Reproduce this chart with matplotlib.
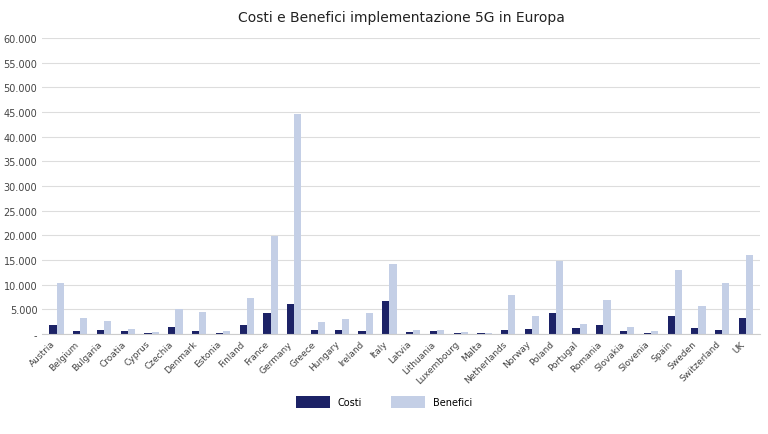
import numpy as np
import matplotlib
matplotlib.use("Agg")
import matplotlib.pyplot as plt
from matplotlib.ticker import FuncFormatter

countries = ["Austria", "Belgium", "Bulgaria", "Croatia", "Cyprus", "Czechia", "Denmark",
             "Estonia", "Finland", "France", "Germany", "Greece", "Hungary", "Ireland", "Italy",
             "Latvia", "Lithuania", "Luxembourg", "Malta", "Netherlands", "Norway", "Poland",
             "Portugal", "Romania", "Slovakia", "Slovenia", "Spain", "Sweden", "Switzerland", "UK"]
costi = [1900, 500, 900, 500, 200, 1400, 600, 200, 1900, 4200, 6000, 900, 900, 600, 6600,
         300, 500, 200, 100, 800, 1000, 4300, 1200, 1900, 600, 200, 3700, 1300, 800, 3200]
benefici = [10400, 3300, 2700, 1000, 300, 5000, 4500, 600, 7200, 19800, 44600, 2500, 3100,
            4300, 14200, 800, 900, 300, 200, 7800, 3600, 14800, 2000, 6900, 1400, 600, 13000,
            5700, 10400, 16100]

fig, ax = plt.subplots(figsize=(7.68, 4.35), dpi=100)
x = np.arange(len(countries))
w = 0.3
ax.bar(x - w / 2, costi, w, color="#1c2266", label="Costi")
ax.bar(x + w / 2, benefici, w, color="#c4cfe6", label="Benefici")

ax.set_ylim(0, 60000)
ax.set_yticks(np.arange(0, 60001, 5000))
ax.yaxis.set_major_formatter(FuncFormatter(lambda v, p: "-" if v == 0 else f"{int(v):,}".replace(",", ".")))
ax.set_xticks(x)
ax.set_xticklabels(countries, rotation=45, ha="right", fontsize=6.5, color="#444444")
ax.tick_params(axis="y", labelsize=7, colors="#444444", length=0)
ax.tick_params(axis="x", length=0)
ax.set_xlim(-0.6, len(countries) - 0.4)
ax.grid(axis="y", color="#dddddd", linewidth=0.8)
ax.set_axisbelow(True)
for s in ["top", "right", "left"]:
    ax.spines[s].set_visible(False)
ax.spines["bottom"].set_color("#cccccc")

ax.set_title("Costi e Benefici implementazione 5G in Europa", fontsize=10, color="#222222", pad=12)
fig.legend(loc="lower center", ncol=2, frameon=False, fontsize=7, bbox_to_anchor=(0.5, 0.04),
           handlelength=3.5, handleheight=1.5, columnspacing=3)
fig.subplots_adjust(left=0.055, right=0.99, top=0.91, bottom=0.23)
fig.savefig("out.png", dpi=100)
